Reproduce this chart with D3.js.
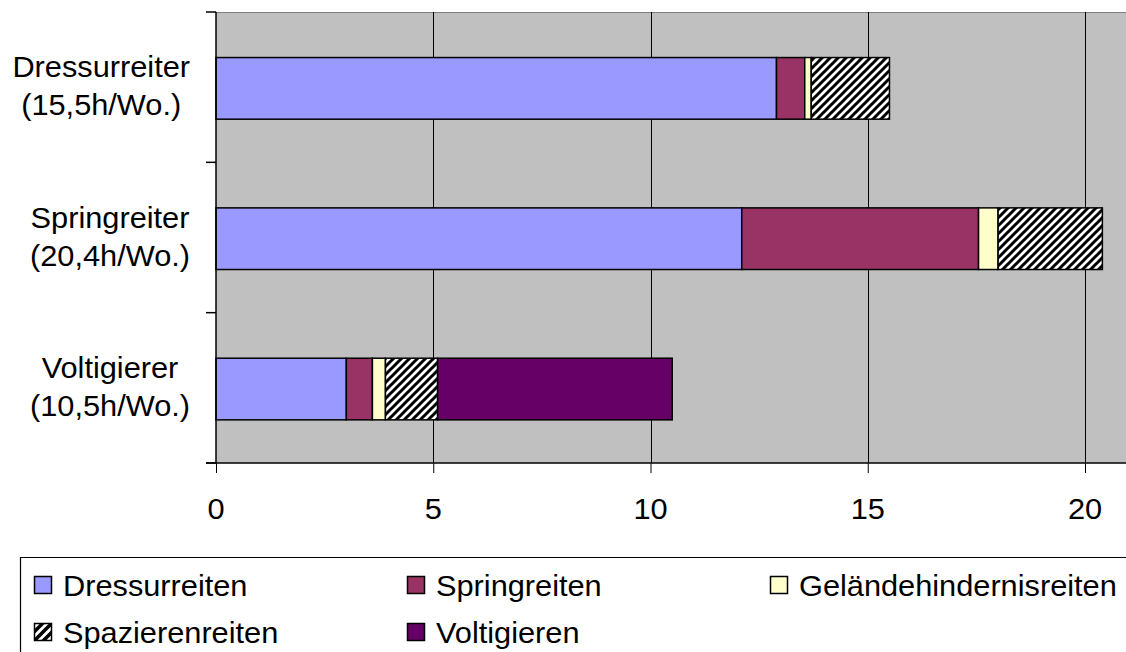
<!DOCTYPE html>
<html>
<head>
<meta charset="utf-8">
<script src="https://cdn.jsdelivr.net/npm/d3@7"></script>
<style>
  html, body { margin: 0; padding: 0; background: #fff; }
  svg { display: block; }
  svg text { font-family: "Liberation Sans", Arial, sans-serif; }
</style>
</head>
<body>
<svg id="chart" width="1126" height="652"></svg>
<script>
// Rider groups (top to bottom) and their weekly training hours
const categories = ["Dressurreiter", "Springreiter", "Voltigierer"];
const categoryHours = ["(15,5h/Wo.)", "(20,4h/Wo.)", "(10,5h/Wo.)"];

// Hours per week by discipline, one value per rider group
const seriesNames = ["Dressurreiten", "Springreiten", "Geländehindernisreiten", "Spazierenreiten", "Voltigieren"];
const dressurreiten   = [12.9, 12.1, 3.0];
const springreiten    = [0.65, 5.45, 0.6];
const gelaende        = [0.15, 0.45, 0.3];
const spazierenreiten = [1.8, 2.4, 1.2];
const voltigieren     = [0, 0, 5.4];

const xTicks = [0, 5, 10, 15, 20];

const seriesValues = [dressurreiten, springreiten, gelaende, spazierenreiten, voltigieren];
const seriesFill = ["#9999FF", "#993366", "#FFFFCC", "url(#hatch)", "#660066"];

// Table for d3.stack
const rows = categories.map((c, i) => {
  const r = { cat: c };
  seriesNames.forEach((s, j) => { r[s] = seriesValues[j][i]; });
  return r;
});
const stacked = d3.stack().keys(seriesNames)(rows);

const svg = d3.select("#chart");
const plot = { left: 216, top: 12, bottom: 463 };
const unit = (1085 - 216) / 20;
const FS = 30, SX = 1.025;

const x = d3.scaleLinear().domain([0, 25]).range([plot.left, plot.left + 25 * unit]);
const y = d3.scaleBand().domain(categories).range([plot.top + 1.2, plot.bottom + 1.2])
  .paddingInner(0.59).paddingOuter(0.295);

// Hatch patterns for "Spazierenreiten"
const defs = svg.append("defs");
function hatch(id, s, w) {
  const pat = defs.append("pattern").attr("id", id)
    .attr("patternUnits", "userSpaceOnUse").attr("width", s).attr("height", s);
  pat.append("rect").attr("width", s).attr("height", s).attr("fill", "#fff");
  pat.append("path")
    .attr("d", `M${-s / 4},${s / 4} L${s / 4},${-s / 4} M0,${s} L${s},0 M${s * 0.75},${s * 1.25} L${s * 1.25},${s * 0.75}`)
    .attr("stroke", "#000").attr("stroke-width", w);
}
hatch("hatch", 8, 3);
hatch("hatchBig", 9, 3.5);

// Plot background
svg.append("rect")
  .attr("x", plot.left).attr("y", plot.top)
  .attr("width", 1126 - plot.left).attr("height", plot.bottom - plot.top)
  .attr("fill", "#C0C0C0");
svg.append("line")
  .attr("x1", plot.left).attr("x2", 1126)
  .attr("y1", plot.top + 0.5).attr("y2", plot.top + 0.5)
  .attr("stroke", "#808080").attr("stroke-width", 1);

// Vertical grid lines
svg.append("g").selectAll("line").data(xTicks.filter(d => d > 0)).join("line")
  .attr("x1", d => Math.round(x(d)) + 0.5).attr("x2", d => Math.round(x(d)) + 0.5)
  .attr("y1", plot.top).attr("y2", plot.bottom)
  .attr("stroke", "#000").attr("stroke-width", 1);

// Stacked bars
svg.append("g").selectAll("g").data(stacked).join("g")
  .attr("fill", (d, i) => seriesFill[i])
  .selectAll("rect").data(d => d.filter(p => p[1] - p[0] > 0)).join("rect")
  .attr("x", d => x(d[0]))
  .attr("y", d => y(d.data.cat))
  .attr("width", d => x(d[1]) - x(d[0]))
  .attr("height", y.bandwidth())
  .attr("stroke", "#000").attr("stroke-width", 1.5);

// Bottom axis
const xAxis = d3.axisBottom(x).tickValues(xTicks).tickSize(10).tickFormat("");
const gx = svg.append("g").attr("transform", `translate(0,${plot.bottom})`).call(xAxis);
gx.select(".domain").remove();
gx.selectAll(".tick line").attr("stroke", "#000");
svg.append("line")
  .attr("x1", plot.left - 10).attr("x2", 1126)
  .attr("y1", plot.bottom).attr("y2", plot.bottom)
  .attr("stroke", "#000").attr("stroke-width", 1.5);
svg.append("g").selectAll("text").data(xTicks).join("text")
  .attr("transform", d => `translate(${x(d)},519) scale(${SX},1)`)
  .attr("text-anchor", "middle").attr("font-size", FS).attr("fill", "#000")
  .text(d => d);

// Left axis with category boundary ticks
svg.append("line")
  .attr("x1", plot.left).attr("x2", plot.left)
  .attr("y1", plot.top).attr("y2", plot.bottom)
  .attr("stroke", "#000").attr("stroke-width", 1.5);
const bandStep = (plot.bottom - plot.top) / categories.length;
svg.append("g").selectAll("line").data(d3.range(categories.length + 1)).join("line")
  .attr("x1", plot.left - 10).attr("x2", plot.left)
  .attr("y1", i => plot.top + i * bandStep).attr("y2", i => plot.top + i * bandStep)
  .attr("stroke", "#000").attr("stroke-width", 1.5);

// Category labels (two centred lines)
const labelG = svg.append("g");
categories.forEach((c, i) => {
  const cy = y(c) + y.bandwidth() / 2;
  const g = labelG.append("g");
  const lines = [c, categoryHours[i]];
  const texts = lines.map((t, k) => g.append("text")
    .attr("font-size", FS).attr("fill", "#000").attr("text-anchor", "middle")
    .attr("transform", `translate(0,${cy - 11 + k * 38}) scale(${SX},1)`)
    .text(t));
  const maxW = d3.max(texts, t => t.node().getComputedTextLength() * SX);
  g.attr("transform", `translate(${190 - maxW / 2},0)`);
});

// Legend
const legend = svg.append("g");
legend.append("path")
  .attr("d", `M20.5,652 L20.5,557.5 L1126,557.5`)
  .attr("fill", "none").attr("stroke", "#000").attr("stroke-width", 1.2);
const legendPos = [
  [34, 576], [407, 576], [770, 576],
  [34, 623], [407, 623]
];
const legendFill = seriesFill.map(f => f === "url(#hatch)" ? "url(#hatchBig)" : f);
const items = legend.selectAll("g.item").data(seriesNames).join("g")
  .attr("class", "item")
  .attr("transform", (d, i) => `translate(${legendPos[i][0]},${legendPos[i][1]})`);
items.append("rect")
  .attr("x", 0.5).attr("y", 0.5).attr("width", 17).attr("height", 17)
  .attr("fill", (d, i) => legendFill[i])
  .attr("stroke", "#000").attr("stroke-width", 1.5);
items.append("text")
  .attr("transform", `translate(29,19.5) scale(${SX},1)`)
  .attr("font-size", FS).attr("fill", "#000")
  .text(d => d);
</script>
</body>
</html>
